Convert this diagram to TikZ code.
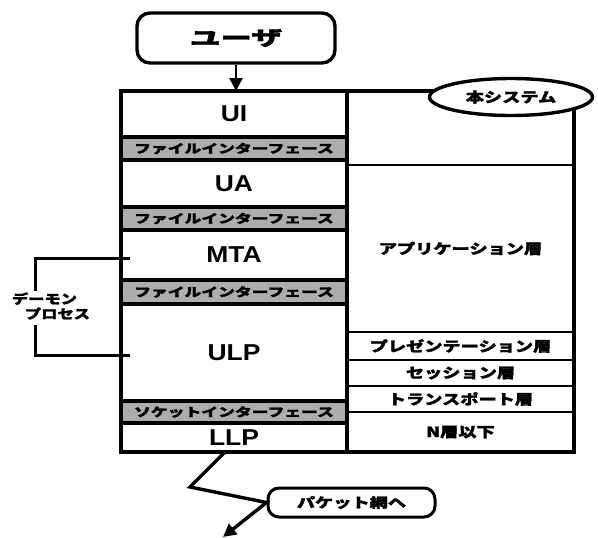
\documentclass[tikz,border=0pt]{standalone}
\usepackage{fontspec}
\usepackage{graphicx}
\setmainfont{Liberation Sans}
\newfontfamily\jp{Noto Sans CJK JP}[FakeBold=1.6]
\usetikzlibrary{shapes.geometric,arrows.meta}
\newcommand{\wx}[2]{\scalebox{#1}[1]{#2}}
\begin{document}
\begin{tikzpicture}[x=1pt,y=-1pt,
  lw/.style={line width=3.4pt},
  rowbox/.style={draw,lw,inner sep=0pt,outer sep=0pt,minimum width=226},
  rcol/.style={draw,line width=2.8pt,inner sep=0pt,outer sep=0pt,minimum width=227},
  band/.style={rowbox,fill=black!32,font=\jp\bfseries\fontsize{12}{12}\selectfont},
  latin/.style={font=\bfseries\fontsize{23}{23}\selectfont},
  jptext/.style={font=\jp\bfseries\fontsize{14}{14}\selectfont},
  tip/.style={-{Triangle[length=13pt,width=13pt]}}
]
\useasboundingbox (0,0) rectangle (598,538);
% user
\node[draw,lw,rounded corners=13pt,minimum width=198,minimum height=50,
  font=\jp\bfseries\fontsize{20}{20}\selectfont] (user) at (236,38) {\wx{1.55}{ユーザ}};
% left column
\node[rowbox,latin,minimum height=46] (ui) at (234,114) {\wx{1.15}{UI}};
\node[band,minimum height=23] (sh1) at (234,148.5) {\wx{1.4}{ファイルインターフェース}};
\node[rowbox,latin,minimum height=47] (ua) at (234,183.5) {\wx{1.15}{UA}};
\node[band,minimum height=23] (sh2) at (234,218.5) {\wx{1.4}{ファイルインターフェース}};
\node[rowbox,latin,minimum height=50] (mta) at (234,255) {\wx{1.15}{MTA}};
\node[band,minimum height=24] (sh3) at (234,292) {\wx{1.4}{ファイルインターフェース}};
\node[rowbox,latin,minimum height=97] (ulp) at (234,352.5) {\wx{1.15}{ULP}};
\node[band,minimum height=22] (sh4) at (234,412) {\wx{1.4}{ソケットインターフェース}};
\node[rowbox,latin,minimum height=29] (llp) at (234,437.5) {\wx{1.15}{LLP}};
% right column
\node[rcol,minimum height=74] (top) at (460.5,128) {};
\node[rcol,jptext,minimum height=167] (app) at (460.5,248.5) {\wx{1.3}{アプリケーション層}};
\node[rcol,jptext,minimum height=28] (pres) at (460.5,346) {\wx{1.3}{プレゼンテーション層}};
\node[rcol,jptext,minimum height=26] (sess) at (460.5,373) {\wx{1.3}{セッション層}};
\node[rcol,jptext,minimum height=26] (trans) at (460.5,399) {\wx{1.3}{トランスポート層}};
\node[rcol,jptext,minimum height=40] (nl) at (460.5,432) {\wx{1.3}{N層以下}};
% outer frame
\draw[lw] (ui.north west) rectangle (nl.south east);
\draw[lw] (ui.north east) -- (llp.south east);
% system ellipse
\node[draw,lw,fill=white,ellipse,minimum width=163,minimum height=37,inner sep=0pt,jptext] (hon) at (511,97) {\wx{1.3}{本システム}};
% user arrow
\draw[line width=2.6pt,tip] (user.south) -- (user.south |- ui.north);
% daemon bracket
\node[jptext,font=\jp\bfseries\fontsize{13}{15}\selectfont,align=left,inner sep=0pt] (dm) at (51,306)
  {\wx{1.25}{デーモン}\\\hspace*{13pt}\wx{1.25}{プロセス}};
\coordinate (bt) at (130,258);
\coordinate (bb) at (130,355);
\draw[line width=3pt] (bt) -- (bt -| 35,0) -- (35,291);
\draw[line width=3pt] (35,325) -- (bb -| 35,0) -- (bb);
% packet network
\node[draw,line width=3pt,rounded corners=11pt,minimum width=167,minimum height=29,inner sep=0pt,
  font=\jp\bfseries\fontsize{13.5}{13.5}\selectfont] (pkt) at (351.5,502.5) {\wx{1.35}{パケット網へ}};
\coordinate (ls) at (225,452);
\coordinate (lk) at (190,487);
\coordinate (le) at (223,537);
\draw[lw,tip] (ls) -- (lk) -- (pkt.west) -- (le);
\end{tikzpicture}
\end{document}
